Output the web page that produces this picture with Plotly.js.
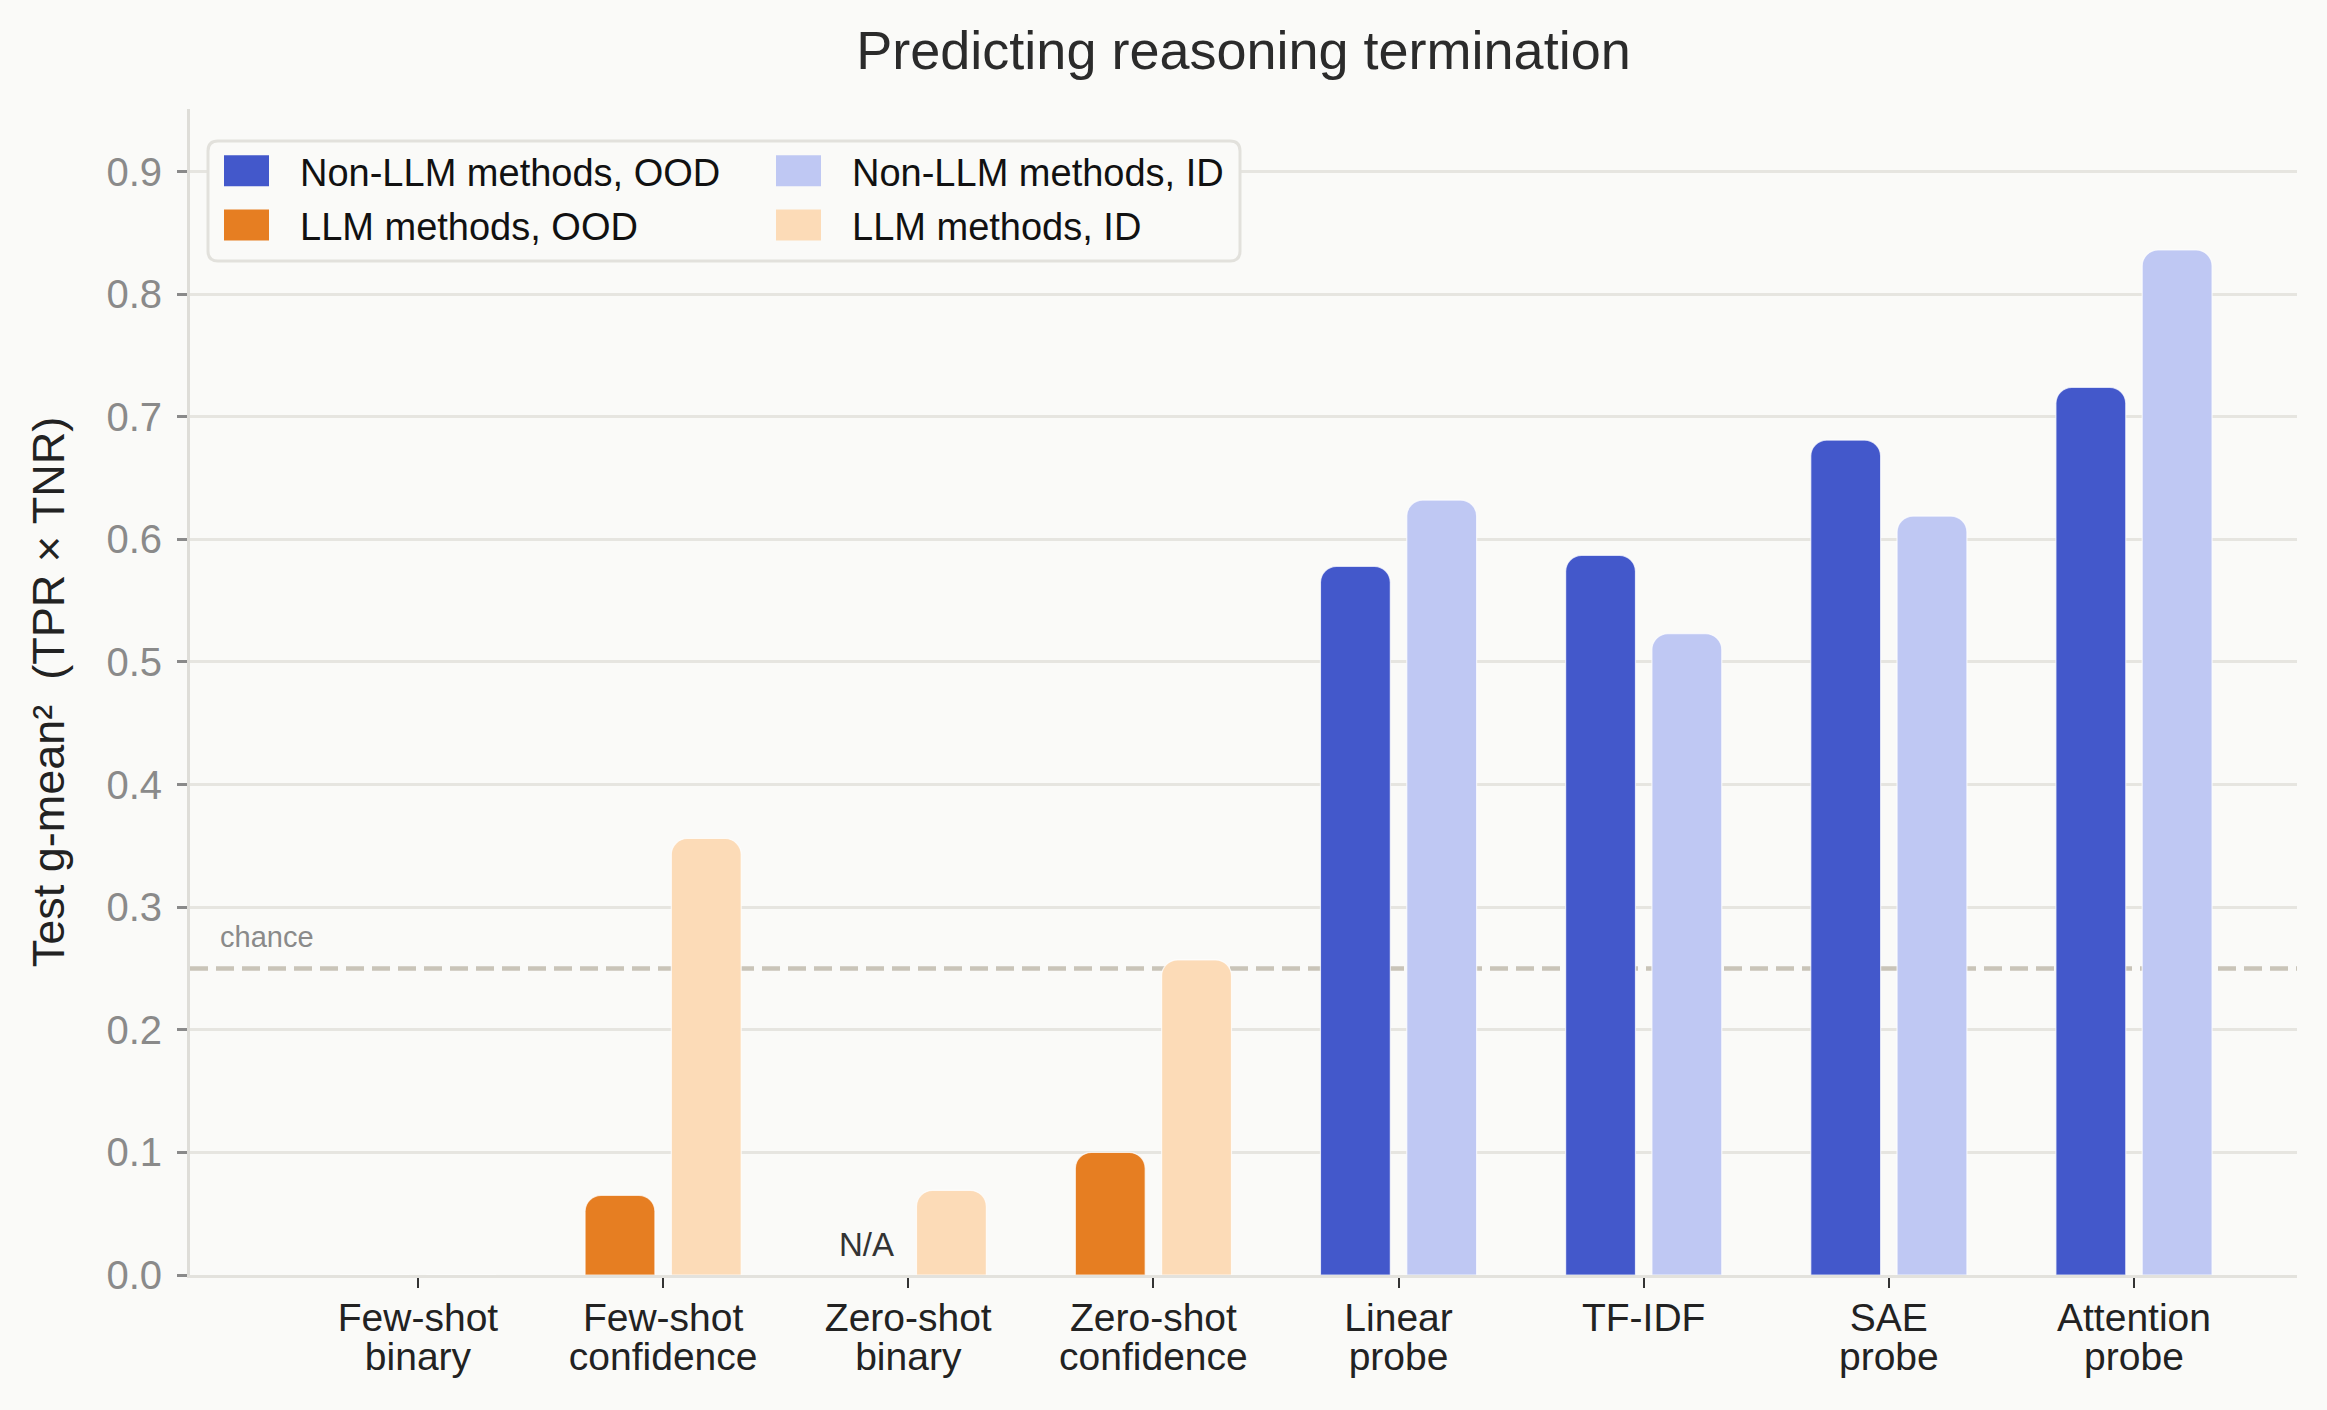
<!DOCTYPE html>
<html>
<head>
<meta charset="utf-8">
<script src="https://cdn.plot.ly/plotly-3.0.1.min.js"></script>
<style>html,body{margin:0;padding:0;background:#FAFAF8;}#chart{width:2327px;height:1410px;}</style>
</head>
<body>
<div id="chart"></div>
<script>
// ---- data ----
const categories = ["Few-shot binary","Few-shot confidence","Zero-shot binary","Zero-shot confidence","Linear probe","TF-IDF","SAE probe","Attention probe"];
const tickLine1 = ["Few-shot","Few-shot","Zero-shot","Zero-shot","Linear","TF-IDF","SAE","Attention"];
const tickLine2 = ["binary","confidence","binary","confidence","probe","","probe","probe"];
const llmCats = categories.slice(0,4);
const nonLlmCats = categories.slice(4);
const llmOOD = [0, 0.065, null, 0.100];
const llmID = [0, 0.356, 0.069, 0.257];
const nonLlmOOD = [0.578, 0.587, 0.681, 0.724];
const nonLlmID = [0.632, 0.523, 0.619, 0.836];
const chanceLevel = 0.25;
const yTicks = [0,0.1,0.2,0.3,0.4,0.5,0.6,0.7,0.8,0.9];

// ---- style ----
const FONT = '"Liberation Sans", Arial, Helvetica, sans-serif';
const BG = '#FAFAF8';
const C_NON_OOD = '#4358CB', C_NON_ID = '#BFC8F3', C_LLM_OOD = '#E67E22', C_LLM_ID = '#FCDBB7';
const W = 0.285, OFF_OOD = -0.3185, OFF_ID = 0.0335;
const edge = {color:'rgba(255,255,255,0.75)', width:1.2};

function barTrace(name, x, y, color, offset, legend, group){
  return {type:'bar', name:name, x:x, y:y, width:W, offset:offset,
    marker:{color:color, line:edge}, legend:legend, legendgroup:group,
    hoverinfo:'x+y+name'};
}

const data = [
  barTrace('Non-LLM methods, OOD', nonLlmCats, nonLlmOOD, C_NON_OOD, OFF_OOD, 'legend', 'a'),
  barTrace('LLM methods, OOD', llmCats, llmOOD, C_LLM_OOD, OFF_OOD, 'legend', 'b'),
  barTrace('Non-LLM methods, ID', nonLlmCats, nonLlmID, C_NON_ID, OFF_ID, 'legend2', 'c'),
  barTrace('LLM methods, ID', llmCats, llmID, C_LLM_ID, OFF_ID, 'legend2', 'd'),
  {type:'scatter', mode:'markers', x:categories, y:categories.map(()=>null), xaxis:'x2', yaxis:'y',
   showlegend:false, hoverinfo:'skip', marker:{opacity:0}}
];

const plotL = 190, plotR = 30, plotT = 109, plotB = 135;
const plotW = 2327 - plotL - plotR, plotH = 1410 - plotT - plotB;
// legend box (pixels -> paper)
const bx0 = (208 - plotL)/plotW, bx1 = (1240 - plotL)/plotW;
const by1 = (1410 - plotB - 141)/plotH, by0 = (1410 - plotB - 261)/plotH;
const rx = 10/plotW, ry = 10/plotH;
const boxPath = `M${bx0+rx},${by0} L${bx1-rx},${by0} Q${bx1},${by0} ${bx1},${by0+ry} L${bx1},${by1-ry} Q${bx1},${by1} ${bx1-rx},${by1} L${bx0+rx},${by1} Q${bx0},${by1} ${bx0},${by1-ry} L${bx0},${by0+ry} Q${bx0},${by0} ${bx0+rx},${by0} Z`;

const xRange = [-0.93, 7.665];
const legendCommon = {bgcolor:'rgba(0,0,0,0)', borderwidth:0, font:{family:FONT, size:38, color:'#111'},
  itemwidth:97, tracegroupgap:2, xanchor:'left', yanchor:'top', orientation:'v', traceorder:'grouped', itemclick:false};

const layout = {
  width:2327, height:1410,
  paper_bgcolor:BG, plot_bgcolor:BG,
  margin:{l:plotL, r:plotR, t:plotT, b:plotB},
  font:{family:FONT, color:'#222'},
  barcornerradius:16,
  barmode:'overlay',
  title:{text:'Predicting reasoning termination', font:{family:FONT, size:54, color:'#2b2b2b'},
    x:0.5, xref:'paper', xanchor:'center', y:1-50/1410, yref:'container', yanchor:'middle'},
  xaxis:{type:'category', categoryorder:'array', categoryarray:categories, range:xRange,
    tickmode:'array', tickvals:categories, ticktext:tickLine1,
    ticks:'outside', ticklen:10, tickwidth:2, tickcolor:'#333',
    tickfont:{family:FONT, size:39, color:'#222'}, ticklabelstandoff:-4,
    showline:true, linecolor:'#E3E2DD', linewidth:3, showgrid:false, zeroline:false, fixedrange:true},
  xaxis2:{type:'category', categoryorder:'array', categoryarray:categories, range:xRange,
    overlaying:'x', anchor:'y', side:'bottom',
    tickmode:'array', tickvals:categories, ticktext:tickLine2,
    ticks:'', tickfont:{family:FONT, size:39, color:'#222'}, ticklabelstandoff:55,
    showline:false, showgrid:false, zeroline:false, fixedrange:true},
  yaxis:{range:[0,0.951], tickmode:'array', tickvals:yTicks, tickformat:'.1f',
    ticks:'outside', ticklen:10, tickwidth:2.5, tickcolor:'#8a8a8a',
    tickfont:{family:FONT, size:40, color:'#8a8a8a'}, ticklabelstandoff:7,
    showline:true, linecolor:'#DEDDD8', linewidth:3,
    showgrid:true, gridcolor:'#E6E5E0', gridwidth:2.5, zeroline:false, fixedrange:true,
    title:{text:'Test g-mean²\u00a0 (TPR × TNR)', font:{family:FONT, size:45, color:'#222'}, standoff:28}},
  legend:Object.assign({}, legendCommon, {x:(193-plotL)/plotW, y:(1410-plotB-139.5)/plotH}),
  legend2:Object.assign({}, legendCommon, {x:(745-plotL)/plotW, y:(1410-plotB-139.5)/plotH}),
  shapes:[
    {type:'line', xref:'paper', yref:'y', x0:0, x1:1, y0:chanceLevel, y1:chanceLevel, layer:'below',
     line:{color:'#C9C4B8', width:4.5, dash:'18px,8px'}},
    {type:'path', xref:'paper', yref:'paper', path:boxPath, layer:'above',
     fillcolor:BG, line:{color:'#E2E1DC', width:3}}
  ],
  annotations:[
    {text:'chance', xref:'paper', yref:'y', x:(218-plotL)/plotW, y:0.276, xanchor:'left', yanchor:'middle',
     showarrow:false, font:{family:FONT, size:29, color:'#8a8a8a'}},
    {text:'N/A', xref:'x', yref:'y', x:categories[2], xshift:-42, y:0.0245, xanchor:'center', yanchor:'middle',
     showarrow:false, font:{family:FONT, size:33, color:'#333'}}
  ]
};

Plotly.newPlot('chart', data, layout, {displayModeBar:false, responsive:false}).then(function(gd){
  gd.querySelectorAll('g.legendpoints path').forEach(function(p){
    p.setAttribute('d','M22.5,15.5H-22.5V-15.5H22.5Z');
    p.style.strokeWidth = '0px';
  });
});
</script>
</body>
</html>
